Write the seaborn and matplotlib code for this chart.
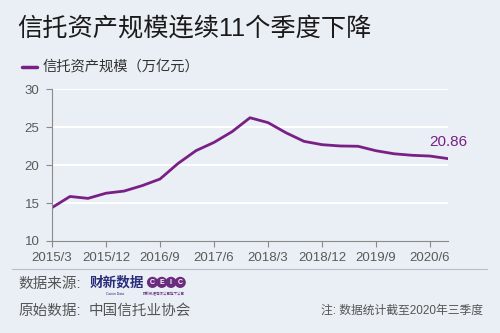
import matplotlib
matplotlib.use("Agg")
import matplotlib.pyplot as plt
import seaborn as sns
import pandas as pd

quarters = ["2015/3", "2015/6", "2015/9", "2015/12", "2016/3", "2016/6", "2016/9", "2016/12",
            "2017/3", "2017/6", "2017/9", "2017/12", "2018/3", "2018/6", "2018/9", "2018/12",
            "2019/3", "2019/6", "2019/9", "2019/12", "2020/3", "2020/6", "2020/9"]
values = [14.40, 15.87, 15.62, 16.30, 16.58, 17.29, 18.17, 20.22, 21.91, 23.00, 24.41, 26.25,
          25.61, 24.27, 23.14, 22.70, 22.53, 22.49, 21.90, 21.50, 21.30, 21.20, 20.86]
tick_labels = ["2015/3", "2015/12", "2016/9", "2017/6", "2018/3", "2018/12", "2019/9", "2020/6"]
y_ticks = [10, 15, 20, 25, 30]

sns.set_theme(style="white")
plt.rcParams['font.family'] = ['Liberation Sans', 'Noto Sans CJK SC', 'DejaVu Sans']

BG = "#e9eff4"
PURPLE = "#7a1f86"
GREY = "#5a5a5a"

df = pd.DataFrame({"idx": range(len(quarters)), "quarter": quarters, "value": values})

fig = plt.figure(figsize=(5, 3.33), dpi=100, facecolor=BG)
ax = fig.add_axes([0.104, 0.2763, 0.792, 0.4555])
ax.set_facecolor(BG)

sns.lineplot(data=df, x="idx", y="value", ax=ax, color=PURPLE, linewidth=2.0, legend=False)

ax.set_xlim(0, len(quarters) - 1)
ax.set_ylim(10, 30)
ax.set_yticks(y_ticks)
ax.set_yticklabels([str(v) for v in y_ticks], color=GREY, fontsize=9.5)
tick_pos = [quarters.index(t) for t in tick_labels]
ax.set_xticks(tick_pos)
ax.set_xticklabels(tick_labels, color=GREY, fontsize=9.5)
for g in y_ticks[1:]:
    ax.axhline(g, color="white", lw=1.5, zorder=0)
ax.set_xlabel("")
ax.set_ylabel("")
for s in ["top", "right"]:
    ax.spines[s].set_visible(False)
for s in ["left", "bottom"]:
    ax.spines[s].set_color("#8a8a8a")
    ax.spines[s].set_linewidth(0.8)
ax.tick_params(axis="y", length=4, width=0.8, color="#8a8a8a", pad=5, direction="out", left=True)
ax.tick_params(axis="x", length=4, width=0.8, color="#8a8a8a", pad=4, direction="out", bottom=True)

# end value label
ax.annotate(f"{values[-1]:.2f}", xy=(len(values) - 1, values[-1]), xytext=(0, 12),
            textcoords="offset points", ha="center", va="center", color=PURPLE, fontsize=11)

# title
fig.text(0.034, 0.915, "信托资产规模连续11个季度下降", fontsize=18.2, color="#1a1a1a",
         ha="left", va="center")
# legend
fig.lines.append(plt.Line2D([0.044, 0.074], [0.80, 0.80], transform=fig.transFigure,
                            color=PURPLE, lw=2.5))
fig.text(0.086, 0.80, "信托资产规模（万亿元）", fontsize=10.3, color="#333333",
         ha="left", va="center")

# footer separator
fig.lines.append(plt.Line2D([0.024, 0.974], [0.193, 0.193], transform=fig.transFigure,
                            color="#b8bec4", lw=0.8))
fig.text(0.036, 0.146, "数据来源:", fontsize=10.5, color="#555555", ha="left", va="center")
fig.text(0.18, 0.152, "财新数据", fontsize=9.8, color="#2b2d7c", ha="left", va="center",
         fontweight="bold")
fig.text(0.23, 0.117, "Caixin Data", fontsize=2.5, color="#2b2d7c", ha="center", va="center")
for i, ch in enumerate("CEIC"):
    fig.text(0.305 + i * 0.0185, 0.152, ch, fontsize=5, color="white", ha="center",
             va="center", fontweight="bold",
             bbox=dict(boxstyle="circle,pad=0.3", fc="#6a2c7e", ec="none"))
fig.text(0.328, 0.117, "财新数据有限公司旗下公司", fontsize=2.5, color="#6a2c7e", ha="center", va="center")
fig.text(0.036, 0.066, "原始数据:", fontsize=10.5, color="#555555", ha="left", va="center")
fig.text(0.178, 0.066, "中国信托业协会", fontsize=10.5, color="#555555", ha="left", va="center")
fig.text(0.966, 0.066, "注: 数据统计截至2020年三季度", fontsize=8.5, color="#555555",
         ha="right", va="center")

fig.savefig("out.png", dpi=100, facecolor=BG)
